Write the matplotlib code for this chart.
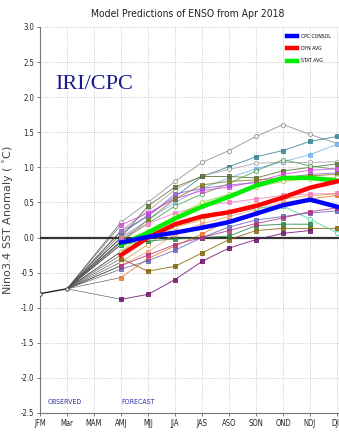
import numpy as np
import matplotlib.pyplot as plt

seasons = ['JFM', 'Mar', 'MAM', 'AMJ', 'MJJ', 'JJA', 'JAS', 'ASO', 'SON', 'OND', 'NDJ', 'DJF']
obs_vals = [-0.80, -0.73]          # JFM, Mar observed
fcst_start = 3                     # forecasts start at AMJ

cpc_consol = [-0.07, 0.01, 0.07, 0.14, 0.22, 0.34, 0.46, 0.54, 0.44]
dyn_avg = [-0.25, 0.00, 0.19, 0.30, 0.36, 0.45, 0.57, 0.71, 0.80]
stat_avg = [-0.10, 0.07, 0.27, 0.44, 0.58, 0.74, 0.85, 0.85, 0.81]

nan = np.nan
# individual model plumes, AMJ .. DJF
model_vals = [
    [0.22, 0.50, 0.80, 1.07, 1.24, 1.44, 1.61, 1.47, 1.34],
    [0.05, 0.32, 0.58, 0.87, 1.01, 1.15, 1.24, 1.37, 1.44],
    [0.00, 0.25, 0.50, 0.70, 0.85, 0.98, 1.08, 1.18, 1.33],
    [0.10, 0.38, 0.68, 0.88, 0.97, 1.06, 1.07, 1.07, 1.08],
    [0.00, 0.45, 0.72, 0.87, 0.87, 0.85, 0.95, 1.00, 1.05],
    [-0.05, 0.20, 0.45, 0.62, 0.77, 0.95, 1.11, 1.02, 0.97],
    [0.18, 0.35, 0.55, 0.67, 0.72, 0.80, 0.90, 0.96, 0.98],
    [0.09, 0.30, 0.62, 0.70, 0.75, 0.78, 0.85, 0.90, 0.92],
    [-0.05, 0.25, 0.55, 0.75, 0.80, 0.82, 0.85, 0.88, 0.90],
    [-0.35, -0.10, 0.15, 0.25, 0.38, 0.48, 0.55, 0.60, 0.62],
    [-0.57, -0.30, -0.12, 0.05, 0.25, 0.35, 0.45, 0.55, 0.60],
    [-0.40, -0.20, 0.05, 0.20, 0.30, 0.40, 0.50, 0.55, nan],
    [-0.45, -0.33, -0.18, 0.00, 0.15, 0.25, 0.30, 0.35, 0.38],
    [-0.30, -0.48, -0.41, -0.22, -0.03, 0.10, 0.13, 0.13, 0.13],
    [-0.88, -0.81, -0.60, -0.34, -0.15, -0.03, 0.06, 0.10, nan],
    [-0.10, -0.05, -0.02, 0.00, 0.02, 0.17, 0.19, 0.19, nan],
    [-0.20, 0.00, 0.20, 0.30, 0.35, 0.42, 0.45, 0.26, 0.07],
    [-0.40, -0.25, -0.10, 0.00, 0.10, 0.20, 0.28, 0.37, 0.42],
    [0.00, 0.20, 0.35, 0.45, 0.50, 0.55, 0.60, 0.62, 0.63],
    [-0.20, 0.10, 0.30, 0.50, 0.62, 0.72, 0.80, 0.84, 0.86],
]
model_colors = ['#8c8c8c', '#2f7f8f', '#6fb0f0', '#a0a0a0', '#556b2f', '#4a9a4a',
                '#e040e0', '#9b59d0', '#7a7a20', '#d4a040', '#f07020', '#f0a080',
                '#6060c0', '#806000', '#6a0a6a', '#208040', '#40d0a0', '#b03080',
                '#f080c0', '#9acd32']
model_markers = ['o', 's', 's', 'o', 's', 'o', 's', 's', 's', 'o',
                 's', 's', 's', 's', 's', 's', 'o', 's', 's', 'o']

fig = plt.figure(figsize=(3.39, 4.32), dpi=100)
ax = fig.add_axes([40 / 339, 19 / 432, 302.4 / 339, 386 / 432])
ax.set_xlim(0, 11.2)
ax.set_ylim(-2.5, 3.0)

ax.set_xticks(range(len(seasons)))
ax.set_xticklabels(seasons, fontsize=5.5, fontstretch='condensed', color='#222222')
ax.set_yticks(np.arange(-2.5, 3.01, 0.5))
ax.set_yticklabels([f'{v:.1f}' for v in np.arange(-2.5, 3.01, 0.5)],
                   fontsize=5.5, fontstretch='condensed', color='#222222')
ax.tick_params(length=2.5, width=0.6, colors='#666666', labelcolor='#222222', pad=1.5)
ax.grid(True, linestyle=':', color='#bbbbbb', linewidth=0.6)
for s in ['top', 'right']:
    ax.spines[s].set_visible(False)
for s in ['left', 'bottom']:
    ax.spines[s].set_color('#777777')
    ax.spines[s].set_linewidth(0.8)

ax.axhline(0, color='#333333', linewidth=1.6, zorder=3)

fx = np.arange(fcst_start, fcst_start + 9)

# fan of lines from last observation to first forecast
for vals in model_vals:
    ax.plot([1, fcst_start], [obs_vals[1], vals[0]], color='#555555', lw=0.45, zorder=2)
for vals in [cpc_consol, dyn_avg, stat_avg]:
    ax.plot([1, fcst_start], [obs_vals[1], vals[0]], color='#555555', lw=0.45, zorder=2)

for vals, c, m in zip(model_vals, model_colors, model_markers):
    face = 'white' if m == 'o' else c
    ax.plot(fx, vals, color=c, lw=0.7, marker=m, ms=3, mfc=face, mec=c, mew=0.7,
            alpha=0.8, zorder=4)

ax.plot([0, 1], obs_vals, color='#222222', lw=1.0, marker='o', ms=2.5,
        mfc='white', mec='#222222', mew=0.6, zorder=5)

ax.plot(fx, stat_avg, color='#00ee00', lw=3.2, label='STAT AVG', zorder=6)
ax.plot(fx, dyn_avg, color='#ff0000', lw=3.2, label='DYN AVG', zorder=7)
ax.plot(fx, cpc_consol, color='#0000ff', lw=3.2, label='CPC CONSOL', zorder=8)

h, l = ax.get_legend_handles_labels()
ax.legend(h[::-1], l[::-1], loc='upper right', bbox_to_anchor=(0.97, 0.99),
          fontsize=3.3, frameon=False, handlelength=2.2, labelspacing=1.6,
          handletextpad=0.8, borderaxespad=0.2)

ax.text(0.55, 2.12, 'IRI/CPC', fontsize=16, family='Liberation Serif', color='#1a1a8c')
ax.text(0.28, -2.37, 'OBSERVED', fontsize=5, color='#3333aa', fontstretch='condensed')
ax.text(3.0, -2.37, 'FORECAST', fontsize=5, color='#3333aa', fontstretch='condensed')

fig.text(188 / 339, 1 - 14 / 432, 'Model Predictions of ENSO from Apr 2018',
         ha='center', va='center', fontsize=7.5, fontstretch='condensed', color='#222222')
ax.set_ylabel('Nino3.4 SST Anomaly ( $^{\\circ}$C)', fontsize=8, color='#444444', labelpad=4)

fig.savefig('out.png', dpi=100)
